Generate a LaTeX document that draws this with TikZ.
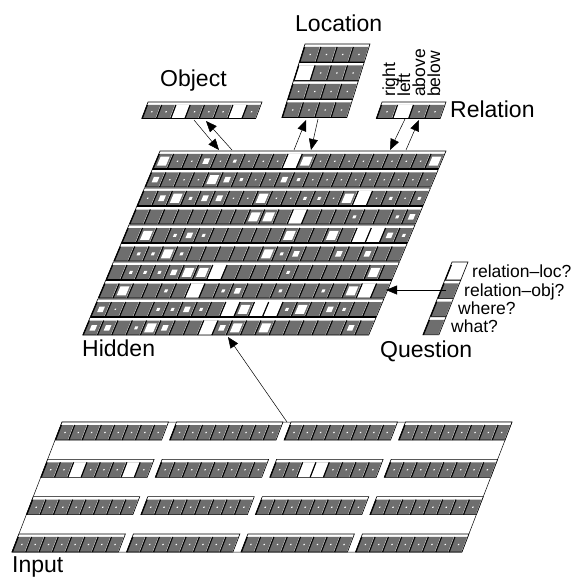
\documentclass[tikz,border=0pt]{standalone}
\usepackage{fontspec}
\setmainfont{Liberation Sans}
\usetikzlibrary{arrows.meta}
\definecolor{cellgray}{RGB}{110,110,110}
\def\slk{0}
% sheared point: u shifted left by slk*v
\newcommand\shp[2]{({(#1)-\slk*(#2)},{#2})}
\newcommand\pbox[4]{\shp{#1}{#2} -- \shp{#3}{#2} -- \shp{#3}{#4} -- \shp{#1}{#4} -- cycle}
\newcommand\hcell[5]{%
  \fill[cellgray] \pbox{#1}{#2}{#1+#3}{#2+#4};
  \ifcase#5 \def\hsz{0}\or\def\hsz{3}\or\def\hsz{5.5}\or\def\hsz{9}\or\def\hsz{-1}\or\def\hsz{1.3}\fi
  \ifdim\hsz pt<0pt
    \fill[white] \pbox{#1+1.0}{#2}{#1+#3-0.2}{#2+#4};
  \else\ifdim\hsz pt>0pt
    \pgfmathsetmacro\hcx{#1+#3/2+0.4}\pgfmathsetmacro\hcy{#2+#4/2}
    \fill[white] \pbox{\hcx-\hsz/2}{\hcy-\hsz/2}{\hcx+\hsz/2}{\hcy+\hsz/2};
  \fi\fi
  \draw[line width=1.1pt] \shp{#1+0.55}{#2} -- \shp{#1+0.55}{#2+#4};
  \draw[white,line width=0.45pt] \shp{#1+#3-0.3}{#2} -- \shp{#1+#3-0.3}{#2+#4};
}
\begin{document}
\begin{tikzpicture}[x=1pt,y=-1pt,
  rowframe/.style={draw=black,line width=0.6pt},
  arr/.style={-{Triangle[length=11pt,width=9pt]},line width=0.5pt},
  biglbl/.style={font=\fontsize{23}{27}\selectfont,inner sep=0pt},
  smalllbl/.style={font=\fontsize{17.5}{20}\selectfont,inner sep=0pt}]
\useasboundingbox (0,0) rectangle (574,577);

% ---------------- Hidden layer ----------------
\begin{scope}[shift={(160,151)}]
\def\slk{0.42}
\foreach \row [count=\r from 0] in {
 {3,5,5,2,5,1,5,5,5,4,3,5,5,5,5,5,5,5,5,3},
 {2,5,5,5,3,2,1,5,5,2,1,5,5,5,5,5,5,5,5,5},
 {5,2,3,1,2,2,5,5,3,5,5,1,1,5,3,4,5,1,5,1},
 {0,0,0,0,0,0,0,0,3,3,0,4,0,0,0,1,0,0,1,2},
 {0,3,0,1,2,1,0,0,0,0,0,3,0,0,3,0,4,4,2,1},
 {0,1,1,3,1,0,0,0,0,0,3,1,2,0,0,2,0,2,0,0},
 {0,1,1,1,2,3,3,4,0,0,0,0,1,0,0,0,0,0,3,0},
 {0,3,0,0,1,0,4,0,1,2,0,0,1,0,0,1,0,3,4,0},
 {2,5,0,0,1,1,2,1,0,4,3,4,4,1,3,0,2,1,0,0},
 {2,2,0,1,3,2,0,0,4,2,3,0,3,0,0,0,0,0,2,0}} {
  \pgfmathsetmacro\vt{18.5*\r}
  \pgfmathsetmacro\vb{\vt+17.5}
  \pgfmathsetmacro\vc{\vt+3}
  \fill[white] \pbox{0}{\vt}{286}{\vb};
  \foreach \s [count=\c from 0] in \row {
    \hcell{\c*14.3}{\vc}{14.3}{14.5}{\s}
  }
  \draw[rowframe] \pbox{0}{\vt}{286}{\vb};
}
\end{scope}

% ---------------- Input layer ----------------
\begin{scope}[shift={(62,422)}]
\def\slk{0.385}
\draw[line width=0.5pt] \pbox{0}{0}{450}{130};
\foreach \r in {0,...,3} {
 \foreach \g in {0,...,3} {
  \pgfmathsetmacro\vt{37.33*\r}
  \pgfmathsetmacro\vb{\vt+18}
  \pgfmathsetmacro\vc{\vt+3}
  \pgfmathsetmacro\ug{114.5*\g}
  \pgfmathsetmacro\ue{\ug+106.5}
  \fill[white] \pbox{\ug}{\vt}{\ue}{\vb};
  \foreach \c in {0,...,7} {
    \def\val{5}%
    \ifnum\r=1 \ifnum\g=0 \ifnum\c=2 \def\val{4}\fi\ifnum\c=6 \def\val{4}\fi\fi
      \ifnum\g=2 \ifnum\c=2 \def\val{4}\fi\ifnum\c=3 \def\val{4}\fi\fi\fi
    \hcell{\ug+\c*13.31}{\vc}{13.31}{15}{\val}
  }
  \draw[rowframe] \pbox{\ug}{\vt}{\ue}{\vb};
 }
}
\end{scope}

% ---------------- Object layer ----------------
\begin{scope}[shift={(148,102)}]
\def\slk{0.38}
\fill[white] \pbox{0}{0}{114}{16.5};
\foreach \s [count=\c from 0] in {5,5,4,5,5,5,4,5} {
  \hcell{\c*14.25}{3}{14.25}{13.5}{\s}
}
\draw[rowframe] \pbox{0}{0}{114}{16.5};
\end{scope}

% ---------------- Location layer ----------------
\begin{scope}[shift={(305,44)}]
\def\slk{0.315}
\foreach \r in {0,...,3} {
  \pgfmathsetmacro\vt{18.5*\r}
  \pgfmathsetmacro\vb{\vt+18}
  \pgfmathsetmacro\vc{\vt+3}
  \fill[white] \pbox{0}{\vt}{65}{\vb};
  \foreach \c in {0,...,3} {
    \def\val{5}%
    \ifnum\r=1 \ifnum\c=0 \def\val{4}\fi\fi
    \hcell{\c*16.25}{\vc}{16.25}{15}{\val}
  }
  \draw[rowframe] \pbox{0}{\vt}{65}{\vb};
}
\end{scope}

% ---------------- Relation layer ----------------
\begin{scope}[shift={(382,102)}]
\def\slk{0.35}
\fill[white] \pbox{0}{0}{64}{16.5};
\foreach \s [count=\c from 0] in {5,4,5,5} {
  \hcell{\c*16}{3}{16}{13.5}{\s}
}
\draw[rowframe] \pbox{0}{0}{64}{16.5};
\end{scope}

% ---------------- Question layer ----------------
\begin{scope}[shift={(452,262)}]
\def\slk{0.4}
\foreach \s [count=\r from 0] in {4,0,0,0} {
  \pgfmathsetmacro\vt{18.3*\r}
  \pgfmathsetmacro\vb{\vt+18}
  \pgfmathsetmacro\vc{\vt+3}
  \fill[white] \pbox{0}{\vt}{16}{\vb};
  \hcell{0}{\vc}{16}{15}{\s}
  \draw[rowframe] \pbox{0}{\vt}{16}{\vb};
}
\end{scope}

% ---------------- Labels ----------------
\node[biglbl,anchor=base west] (tloc) at (295,32) {Location};
\node[biglbl,anchor=base west] (tobj) at (160,87) {Object};
\node[biglbl,anchor=base west] (trel) at (450,118) {Relation};
\node[biglbl,anchor=base west] (thid) at (82,356) {Hidden};
\node[biglbl,anchor=base west] (tque) at (380,357) {Question};
\node[biglbl,anchor=base west] (tinp) at (12,572) {Input};
\node[smalllbl,anchor=base west] (q1l) at (472,277) {relation–loc?};
\node[smalllbl,anchor=base west] (q2l) at (464,296) {relation–obj?};
\node[smalllbl,anchor=base west] (q3l) at (458,314) {where?};
\node[smalllbl,anchor=base west] (q4l) at (451,332) {what?};
\node[smalllbl,anchor=base west,rotate=90] (rr) at (395,97) {right};
\node[smalllbl,anchor=base west,rotate=90] (rl) at (410,97) {left};
\node[smalllbl,anchor=base west,rotate=90] (ra) at (425,97) {above};
\node[smalllbl,anchor=base west,rotate=90] (rb) at (440,97) {below};

% ---------------- Connectors ----------------
\coordinate (ob1) at (194,120); \coordinate (hd1) at (219,150);
\coordinate (hd2) at (232,150); \coordinate (ob2) at (206,121);
\coordinate (hd3) at (294,150); \coordinate (lo1) at (306,120);
\coordinate (lo2) at (318,119); \coordinate (hd4) at (311,150);
\coordinate (re1) at (405,119); \coordinate (hd5) at (390,150);
\coordinate (hd6) at (406,150); \coordinate (re2) at (419,120);
\coordinate (qu1) at (446,290); \coordinate (hd7) at (386,290);
\coordinate (in1) at (287,422); \coordinate (hd8) at (228,337);
\draw[arr] (ob1) -- (hd1);
\draw[arr] (hd2) -- (ob2);
\draw[arr] (hd3) -- (lo1);
\draw[arr] (lo2) -- (hd4);
\draw[arr] (re1) -- (hd5);
\draw[arr] (hd6) -- (re2);
\draw[arr] (qu1) -- (hd7);
\draw[arr] (in1) -- (hd8);
\end{tikzpicture}
\end{document}
